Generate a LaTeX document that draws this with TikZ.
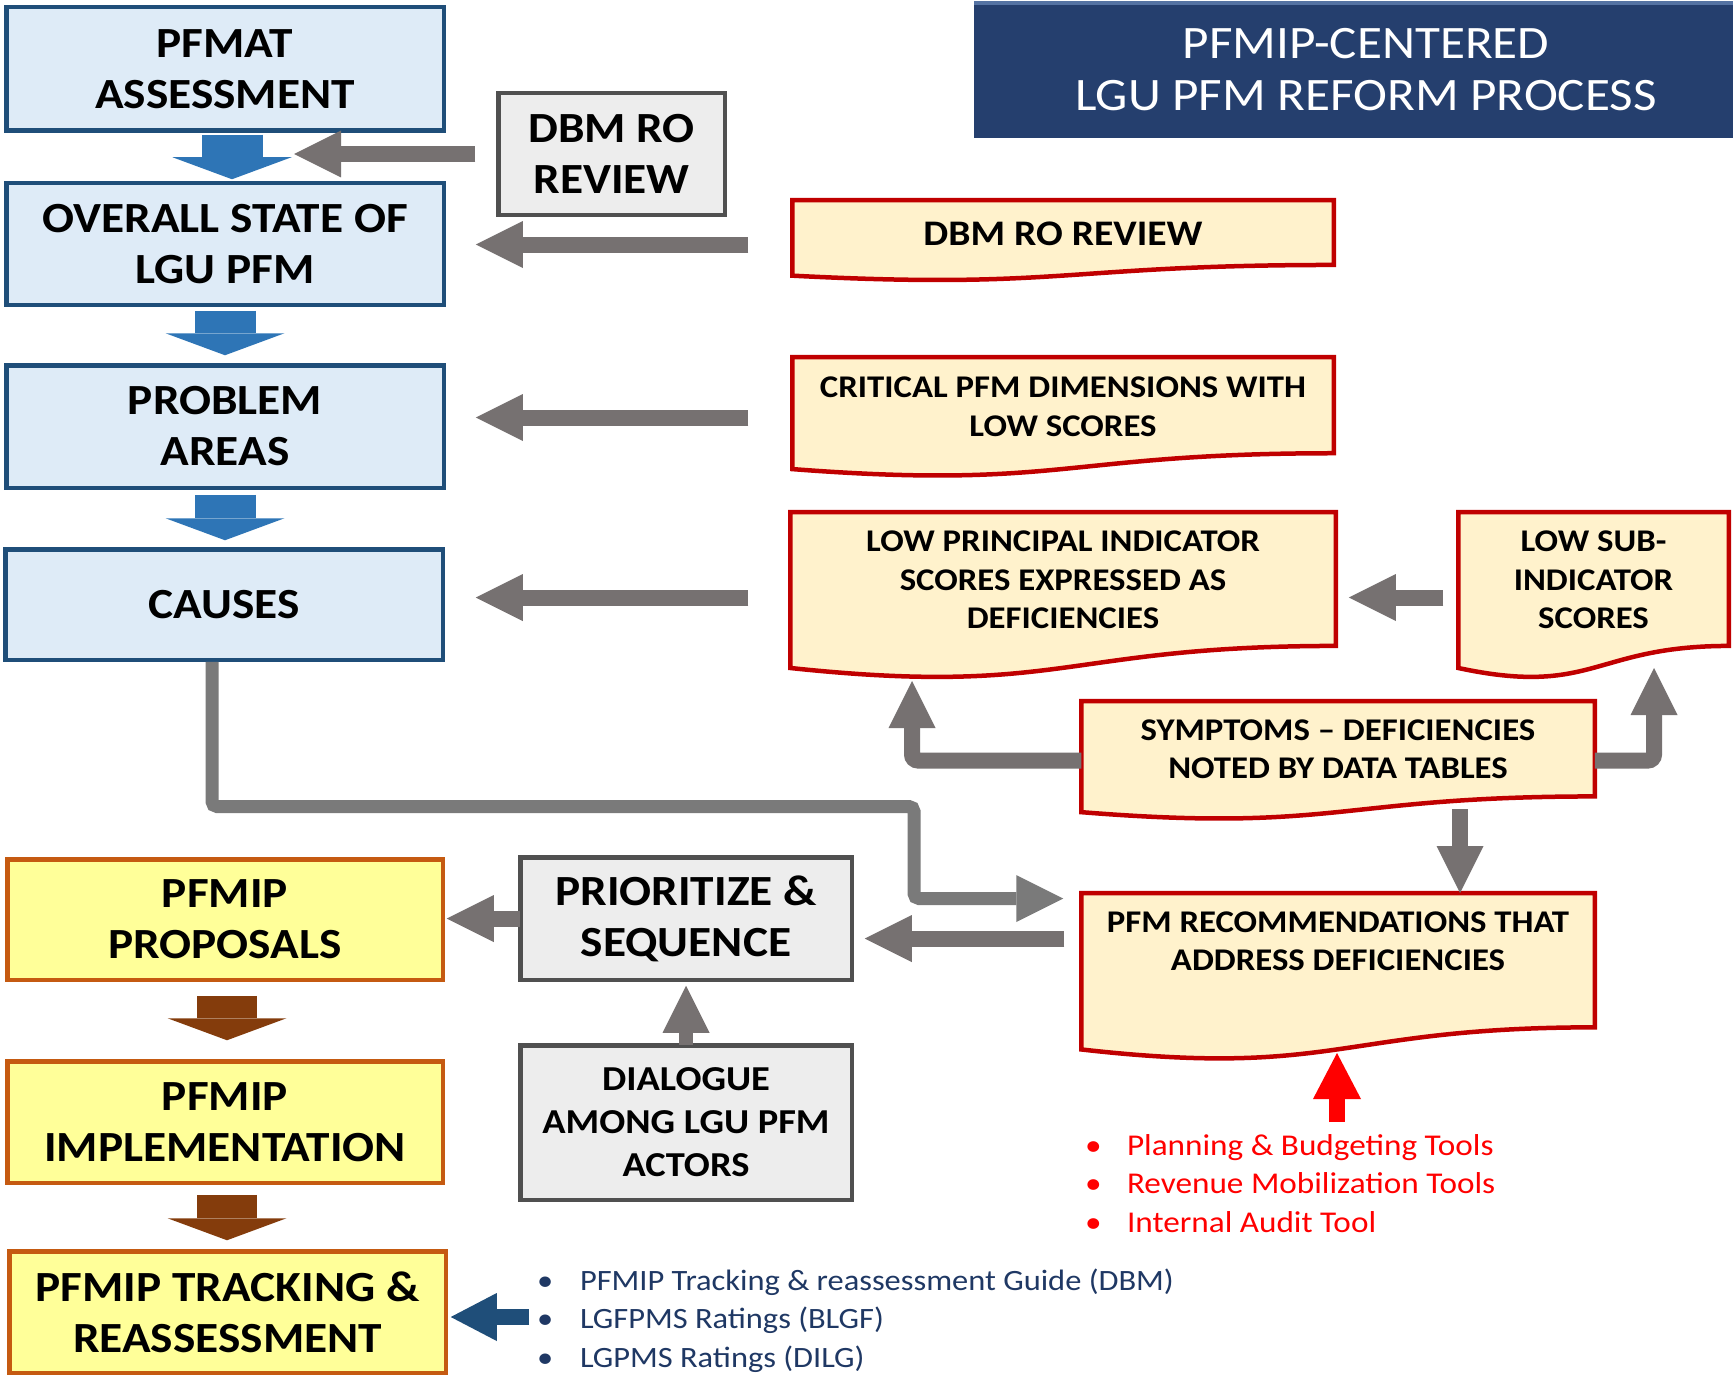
\documentclass[tikz,border=0pt]{standalone}
\usepackage{fontspec}
\setmainfont{Carlito}[FakeStretch=1.1]
\usetikzlibrary{arrows.meta,calc,backgrounds}
\definecolor{boxblue}{HTML}{1F4E79}
\definecolor{lightblue}{HTML}{DEEBF7}
\definecolor{arrowblue}{HTML}{2E75B6}
\definecolor{titleblue}{HTML}{253F6E}
\definecolor{titlehi}{HTML}{5573A3}
\definecolor{docred}{HTML}{C00000}
\definecolor{docfill}{HTML}{FFF2CC}
\definecolor{greyfill}{HTML}{EDEDED}
\definecolor{greyline}{HTML}{505050}
\definecolor{arrowgrey}{HTML}{767171}
\definecolor{linegrey}{HTML}{7A7A7A}
\definecolor{yellowfill}{HTML}{FFFF99}
\definecolor{orangeline}{HTML}{C55A11}
\definecolor{arrowbrown}{HTML}{843C0C}
\definecolor{navytext}{HTML}{1F3864}
\newcommand\myboxfont{\fontsize{43}{51}\selectfont\bfseries}
\newcommand\mydocfont{\fontsize{31.6}{38.5}\selectfont\bfseries}
\newcommand\mydbmdocfont{\fontsize{36}{40}\selectfont\bfseries}
\newcommand\mydialfont{\fontsize{35}{43}\selectfont\bfseries}
\newcommand\mytitlefont{\fontsize{46.5}{52}\selectfont}
\newcommand\myredlistfont{\fontsize{30.2}{38.5}\selectfont}
\newcommand\mybluelistfont{\fontsize{29.5}{38.5}\selectfont}
% document shape: #1 node name, #2 full height
\newcommand\docpath[2]{%
  \path[docline] (#1.north west) -- (#1.north east)
    -- ([yshift={-0.802*#2}]#1.north east)
    .. controls ([yshift={-0.802*#2}]#1.north) and ([yshift={-1.1075*#2}]#1.north)
    .. ([yshift={-0.934*#2}]#1.north west) -- cycle;}
\begin{document}
\begin{tikzpicture}[x=1pt,y=-1pt,
  basebox/.style={line width=4.5pt, align=center, inner sep=0pt, outer sep=0pt, font=\myboxfont, text=black},
  bluebox/.style={basebox, draw=boxblue, fill=lightblue, minimum width=437.5pt},
  yellowbox/.style={basebox, draw=orangeline, fill=yellowfill, minimum width=435.5pt},
  greybox/.style={basebox, draw=greyline, fill=greyfill},
  docnode/.style={anchor=north, align=center, inner sep=0pt, outer sep=0pt, font=\mydocfont, text=black},
  docline/.style={draw=docred, fill=docfill, line width=4.5pt},
  titlebox/.style={fill=titleblue, text=white, align=center, font=\mytitlefont, inner sep=0pt,
    minimum width=784pt, minimum height=137pt,
    path picture={\fill[titlehi] (path picture bounding box.north west) rectangle ([yshift=-4pt]path picture bounding box.north east);}},
  garrow/.style={draw=arrowgrey, line width=16pt, -{Triangle[width=47pt,length=47pt,line width=0pt]}},
  barrow/.style={draw=arrowblue, line width=61pt, -{Triangle[width=119pt,length=22pt,line width=0pt]}},
  brarrow/.style={draw=arrowbrown, line width=60pt, -{Triangle[width=119pt,length=22pt,line width=0pt]}},
  rarrow/.style={draw=red, line width=16pt, -{Triangle[width=48pt,length=46pt,line width=0pt]}},
  dbarrow/.style={draw=boxblue, line width=16pt, -{Triangle[width=48pt,length=46pt,line width=0pt]}},
  cline/.style={draw=linegrey, line width=13pt, rounded corners=5pt, -{Triangle[width=47pt,length=47pt,line width=0pt]}},
  listnode/.style={anchor=base west, inner sep=0pt, outer sep=0pt}
]
\useasboundingbox (0,0) rectangle (1733,1378);

% title
\node[titlebox] (title) at (1366,69.5) {PFMIP-CENTERED\\LGU PFM REFORM PROCESS};

% left column
\node[bluebox, minimum height=123.5pt] (pfmat) at (225,69) {PFMAT\\ASSESSMENT};
\node[bluebox, minimum height=121.5pt] (overall) at (225,244) {OVERALL STATE OF\\LGU PFM};
\node[bluebox, minimum height=122.5pt] (problem) at (225,426.5) {PROBLEM\\AREAS};
\node[bluebox, minimum height=110.5pt] (causes) at (224,604.5) {CAUSES};
\node[greybox, minimum width=226.5pt, minimum height=121.5pt] (dbmbox) at (611.5,154) {DBM RO\\REVIEW};

\node[yellowbox, minimum height=120.5pt] (proposals) at (225,919.5) {PFMIP\\PROPOSALS};
\node[yellowbox, minimum height=121.5pt] (implementation) at (225,1122) {PFMIP\\IMPLEMENTATION};
\node[yellowbox, minimum width=436.5pt, minimum height=121.5pt] (tracking) at (227.5,1312) {PFMIP TRACKING \&\\REASSESSMENT};
\node[greybox, minimum width=331.5pt, minimum height=122.5pt] (prior) at (686,918.5) {PRIORITIZE \&\\SEQUENCE};
\node[greybox, minimum width=331.5pt, minimum height=154.5pt, font=\mydialfont] (dialogue) at (686,1122.5) {DIALOGUE\\AMONG LGU PFM\\ACTORS};

% document nodes
\node[docnode, minimum width=541.5pt, minimum height=67pt, font=\mydbmdocfont] (dbmdoc) at (1063,200) {DBM RO REVIEW};
\node[docnode, minimum width=541.5pt, minimum height=99pt] (crit) at (1063,357) {CRITICAL PFM DIMENSIONS WITH\\LOW SCORES};
\node[docnode, minimum width=545.5pt, minimum height=136pt] (lowpi) at (1063,512) {LOW PRINCIPAL INDICATOR\\SCORES EXPRESSED AS\\DEFICIENCIES};
\node[docnode, minimum width=270.5pt, minimum height=136pt] (lowsub) at (1593.5,512) {LOW SUB-\\INDICATOR\\SCORES};
\node[docnode, minimum width=513.5pt, minimum height=96pt] (symp) at (1338,701) {SYMPTOMS -- DEFICIENCIES\\NOTED BY DATA TABLES};
\node[docnode, minimum width=513.5pt, minimum height=96pt] (pfmrec) at (1338,893) {PFM RECOMMENDATIONS THAT\\ADDRESS DEFICIENCIES};
\begin{scope}[on background layer]
  \fill[white] (0,0) rectangle (1733,1378);
  \docpath{dbmdoc}{81}
  \docpath{crit}{120}
  \docpath{lowpi}{167}
  \docpath{lowsub}{167}
  \docpath{symp}{119}
  \docpath{pfmrec}{167.5}
\end{scope}

% bullet lists
\node[listnode, text=red, font=\myredlistfont] (redlist) at (1085,1155) {\vtop{\baselineskip=38.5pt
  \hbox{\makebox[42pt][l]{\textbullet}Planning \& Budgeting Tools}
  \hbox{\makebox[42pt][l]{\textbullet}Revenue Mobilization Tools}
  \hbox{\makebox[42pt][l]{\textbullet}Internal Audit Tool}}};
\node[listnode, text=navytext, font=\mybluelistfont] (bluelist) at (537,1290) {\vtop{\baselineskip=38.5pt
  \hbox{\makebox[43pt][l]{\textbullet}PFMIP Tracking \& reassessment Guide (DBM)}
  \hbox{\makebox[43pt][l]{\textbullet}LGFPMS Ratings (BLGF)}
  \hbox{\makebox[43pt][l]{\textbullet}LGPMS Ratings (DILG)}}};

% coordinates for free arrow ends
\coordinate (dbmtip) at (294,154);
\coordinate (lowpitip) at (912,681);
\coordinate (lowsubtip) at (1654,668);
\coordinate (redbase) at (1337,1122);
\coordinate (redtip) at (1337,1053);

% blue and brown flow arrows
\draw[barrow, shorten <=4pt, shorten >=4pt] ([xshift=7pt]pfmat.south) -- ([xshift=7pt]overall.north);
\draw[barrow, shorten <=6pt, shorten >=10pt] (overall.south) -- (problem.north);
\draw[barrow, shorten <=7pt, shorten >=9pt] (problem.south) -- (problem.south |- causes.north);
\draw[brarrow, shorten <=16pt, shorten >=21pt] ([xshift=2pt]proposals.south) -- ([xshift=2pt]implementation.north);
\draw[brarrow, shorten <=12pt, shorten >=11pt] ([xshift=2pt]implementation.south) -- ([xshift=2pt]implementation.south |- tracking.north);

% grey arrows
\draw[garrow, shorten <=23pt] (dbmbox.west) -- (dbmtip);
\draw[garrow, shorten <=44pt, shorten >=32pt] (dbmdoc.west |- 0,244.5) -- (overall.east |- 0,244.5);
\draw[garrow, shorten <=44pt, shorten >=32pt] (crit.west |- 0,417.5) -- (problem.east |- 0,417.5);
\draw[garrow, shorten <=42pt, shorten >=33pt] (lowpi.west |- 0,597.5) -- (causes.east |- 0,597.5);
\draw[garrow, shorten <=15pt, shorten >=13pt] (lowsub.west |- 0,597.5) -- (lowpi.east |- 0,597.5);
\draw[garrow, rounded corners=6pt] (symp.west |- 0,760.5) -| (lowpitip);
\draw[garrow, rounded corners=6pt] (symp.east |- 0,760.5) -| (lowsubtip);
\draw[garrow, shorten <=12pt] (symp.south -| 1460,0) -- (pfmrec.north -| 1460,0);
\draw[garrow, shorten <=17pt, shorten >=13pt] (pfmrec.west |- 0,938.5) -- (prior.east |- 0,938.5);
\draw[garrow, shorten >=4pt] (prior.west) -- (proposals.east |- prior.west);
\draw[garrow, line width=14pt, shorten >=6pt] (dialogue.north) -- (prior.south);

% connector from causes
\draw[cline, shorten <=2pt, shorten >=18pt] ([xshift=-12pt]causes.south) |- (914,806.5) |- (pfmrec.west |- 0,898.5);

% red and dark blue arrows
\draw[rarrow] (redbase) -- (redtip);
\draw[dbarrow, shorten <=8pt, shorten >=5pt] (bluelist.west |- 0,1317) -- (tracking.east |- 0,1317);
\end{tikzpicture}
\end{document}
